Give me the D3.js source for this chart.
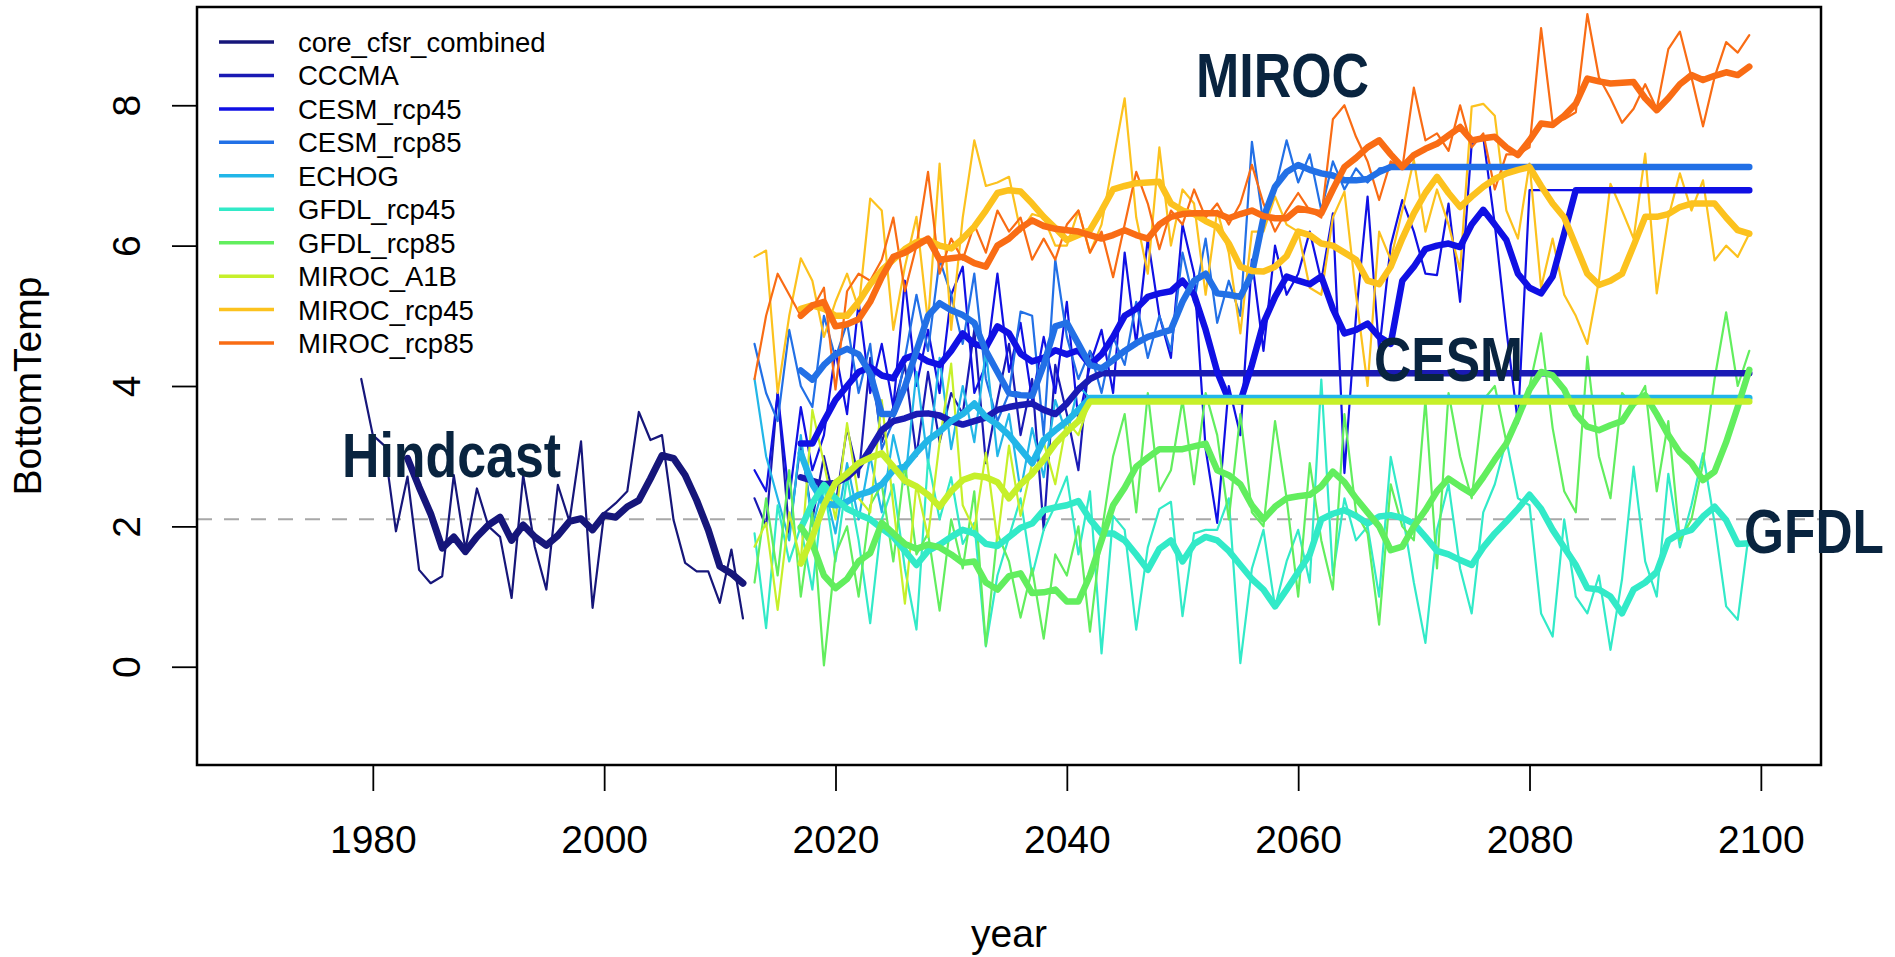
<!DOCTYPE html>
<meta charset="utf-8">
<style>
body { margin: 0; background: #fff; }
text { font-family: "Liberation Sans", Arial, sans-serif; fill: #000; }
.tick text { font-size: 39px; }
.legend text { font-size: 27.5px; }
.note { font-family: "Liberation Sans", Arial, sans-serif; font-weight: bold; font-size: 63px; fill: #09243f; }
</style>
<svg width="1895" height="957"></svg>
<script src="https://cdn.jsdelivr.net/npm/d3@7"></script>
<script>

// ---- data ----
var hindStart = 1979, hindThickStart = 1983, projStart = 2013, projThickStart = 2017;

var hindThin = [4.10, 3.30, 3.15, 1.93, 2.71, 1.38, 1.19, 1.29, 2.73, 1.67,
  2.54, 2.00, 1.85, 0.98, 2.73, 1.71, 1.10, 2.59, 2.07, 3.21,
  0.84, 2.19, 2.33, 2.50, 3.63, 3.23, 3.30, 2.09, 1.48, 1.36,
  1.36, 0.91, 1.67, 0.69];
var hindThick = [2.97, 2.56, 2.18, 1.69, 1.85, 1.64, 1.85, 2.02, 2.13, 1.80,
  2.02, 1.85, 1.73, 1.87, 2.07, 2.11, 1.95, 2.16, 2.13, 2.28,
  2.37, 2.68, 3.01, 2.97, 2.73, 2.37, 1.95, 1.43, 1.33, 1.19];

var cccmaThin = [2.4, 2.0, 3.9, 1.9, 3.2, 2.1, 3.0, 2.3, 3.4, 2.7,
  4.4, 3.2, 3.7, 4.3, 3.0, 4.2, 3.2, 3.9, 3.6, 4.8,
  2.9, 3.8, 4.6, 3.3, 4.1, 1.95, 4.3, 3.6, 2.8, 4.5,
  4.18, 4.18, 4.18, 4.18, 4.18, 4.18, 4.18, 4.18, 4.18, 4.18,
  4.18, 4.18, 4.18, 4.18, 4.18, 4.18, 4.18, 4.18, 4.18, 4.18,
  4.18, 4.18, 4.18, 4.18, 4.18, 4.18, 4.18, 4.18, 4.18, 4.18,
  4.18, 4.18, 4.18, 4.18, 4.18, 4.18, 4.18, 4.18, 4.18, 4.18,
  4.18, 4.18, 4.18, 4.18, 4.18, 4.18, 4.18, 4.18, 4.18, 4.18,
  4.18, 4.18, 4.18, 4.18, 4.18, 4.18, 4.18];
var cccmaThick = [2.7, 2.65, 2.6, 2.62, 2.7, 2.85, 3.1, 3.37, 3.5, 3.54,
  3.6, 3.61, 3.58, 3.5, 3.45, 3.5, 3.55, 3.66, 3.7, 3.73,
  3.75, 3.66, 3.6, 3.75, 3.95, 4.1, 4.18, 4.18, 4.18, 4.18,
  4.18, 4.18, 4.18, 4.18, 4.18, 4.18, 4.18, 4.18, 4.18, 4.18,
  4.18, 4.18, 4.18, 4.18, 4.18, 4.18, 4.18, 4.18, 4.18, 4.18,
  4.18, 4.18, 4.18, 4.18, 4.18, 4.18, 4.18, 4.18, 4.18, 4.18,
  4.18, 4.18, 4.18, 4.18, 4.18, 4.18, 4.18, 4.18, 4.18, 4.18,
  4.18, 4.18, 4.18, 4.18, 4.18, 4.18, 4.18, 4.18, 4.18, 4.18,
  4.18, 4.18, 4.18];

var cesm45Thin = [2.8, 2.5, 3.9, 2.4, 3.7, 2.8, 3.3, 4.5, 3.6, 5.2,
  3.9, 4.6, 3.7, 5.5, 4.0, 4.8, 3.9, 5.3, 5.7, 3.9,
  4.3, 5.6, 4.2, 4.9, 3.8, 4.7, 3.9, 5.2, 3.5, 4.3,
  4.8, 3.9, 5.9, 4.6, 6.1, 5.0, 4.4, 6.3, 5.6, 3.1,
  2.05, 4.0, 3.3, 5.8, 4.5, 6.0, 5.3, 5.6, 6.2, 5.5,
  6.46, 2.76, 5.0, 6.7, 4.5, 6.0, 6.65, 6.2, 5.6, 5.58,
  6.6, 5.2, 7.45, 7.55, 6.3, 4.8, 3.47, 6.79, 6.79, 6.79,
  6.79, 6.79, 6.79, 6.79, 6.79, 6.79, 6.79, 6.79, 6.79, 6.79,
  6.79, 6.79, 6.79, 6.79, 6.79, 6.79, 6.79];
var cesm45Thick = [3.18, 3.18, 3.5, 3.8, 4.0, 4.2, 4.27, 4.15, 4.11, 4.39,
  4.45, 4.35, 4.3, 4.5, 4.75, 4.6, 4.55, 4.85, 4.75, 4.46,
  4.35, 4.4, 4.51, 4.45, 4.51, 4.3, 4.45, 4.7, 5.0, 5.1,
  5.27, 5.32, 5.35, 5.5, 5.3, 4.8, 4.2, 3.8, 3.78, 4.3,
  4.9, 5.27, 5.56, 5.5, 5.45, 5.56, 5.1, 4.75, 4.8, 4.89,
  4.7, 4.6, 5.5, 5.7, 5.95, 6.0, 6.03, 5.98, 6.3, 6.51,
  6.3, 6.08, 5.6, 5.4, 5.32, 5.56, 6.17, 6.79, 6.79, 6.79,
  6.79, 6.79, 6.79, 6.79, 6.79, 6.79, 6.79, 6.79, 6.79, 6.79,
  6.79, 6.79, 6.79];

var cesm85Thin = [4.6, 3.9, 3.5, 4.8, 4.0, 3.7, 5.0, 4.4, 4.9, 3.9,
  4.6, 3.1, 3.5, 4.4, 5.3, 4.5, 5.8, 5.3, 4.6, 5.6,
  4.1, 3.5, 3.9, 5.06, 5.0, 3.3, 5.8, 4.7, 4.1, 4.5,
  3.9, 4.7, 4.3, 5.2, 4.4, 5.0, 4.5, 5.9, 5.2, 6.1,
  4.9, 5.5, 5.0, 7.48, 6.3, 6.8, 7.5, 6.9, 7.3, 6.5,
  7.2, 6.8, 7.1, 6.9, 7.1, 7.12, 7.12, 7.12, 7.12, 7.12,
  7.12, 7.12, 7.12, 7.12, 7.12, 7.12, 7.12, 7.12, 7.12, 7.12,
  7.12, 7.12, 7.12, 7.12, 7.12, 7.12, 7.12, 7.12, 7.12, 7.12,
  7.12, 7.12, 7.12, 7.12, 7.12, 7.12, 7.12];
var cesm85Thick = [4.22, 4.09, 4.3, 4.45, 4.53, 4.45, 4.18, 3.6, 3.6, 3.99,
  4.5, 5.0, 5.18, 5.08, 5.01, 4.9, 4.5, 4.2, 3.9, 3.87,
  3.86, 4.3, 4.85, 4.9, 4.6, 4.3, 4.25, 4.37, 4.5, 4.61,
  4.7, 4.75, 4.8, 5.2, 5.5, 5.6, 5.32, 5.3, 5.27, 5.6,
  6.4, 6.84, 7.05, 7.15, 7.08, 7.03, 7.0, 6.93, 6.93, 6.95,
  7.05, 7.12, 7.12, 7.12, 7.12, 7.12, 7.12, 7.12, 7.12, 7.12,
  7.12, 7.12, 7.12, 7.12, 7.12, 7.12, 7.12, 7.12, 7.12, 7.12,
  7.12, 7.12, 7.12, 7.12, 7.12, 7.12, 7.12, 7.12, 7.12, 7.12,
  7.12, 7.12, 7.12];

var echogThin = [4.1, 3.0, 2.4, 1.8, 3.3, 2.0, 2.6, 1.9, 2.9, 2.1,
  3.0, 2.2, 3.3, 2.6, 4.2, 2.9, 4.4, 3.1, 4.0, 3.2,
  4.5, 3.0, 3.6, 2.5, 3.4, 2.7, 3.8, 3.3, 4.0, 3.83,
  3.83, 3.83, 3.83, 3.83, 3.83, 3.83, 3.83, 3.83, 3.83, 3.83,
  3.83, 3.83, 3.83, 3.83, 3.83, 3.83, 3.83, 3.83, 3.83, 3.83,
  3.83, 3.83, 3.83, 3.83, 3.83, 3.83, 3.83, 3.83, 3.83, 3.83,
  3.83, 3.83, 3.83, 3.83, 3.83, 3.83, 3.83, 3.83, 3.83, 3.83,
  3.83, 3.83, 3.83, 3.83, 3.83, 3.83, 3.83, 3.83, 3.83, 3.83,
  3.83, 3.83, 3.83, 3.83, 3.83, 3.83, 3.83];
var echogThick = [3.04, 2.6, 2.33, 2.3, 2.35, 2.45, 2.5, 2.6, 2.8, 2.85,
  3.05, 3.23, 3.35, 3.5, 3.6, 3.75, 3.56, 3.45, 3.3, 3.1,
  2.9, 3.23, 3.37, 3.5, 3.66, 3.83, 3.83, 3.83, 3.83, 3.83,
  3.83, 3.83, 3.83, 3.83, 3.83, 3.83, 3.83, 3.83, 3.83, 3.83,
  3.83, 3.83, 3.83, 3.83, 3.83, 3.83, 3.83, 3.83, 3.83, 3.83,
  3.83, 3.83, 3.83, 3.83, 3.83, 3.83, 3.83, 3.83, 3.83, 3.83,
  3.83, 3.83, 3.83, 3.83, 3.83, 3.83, 3.83, 3.83, 3.83, 3.83,
  3.83, 3.83, 3.83, 3.83, 3.83, 3.83, 3.83, 3.83, 3.83, 3.83,
  3.83, 3.83, 3.83];

var gfdl45Thin = [1.9, 0.55, 2.3, 1.5, 2.0, 1.1, 2.6, 1.5, 2.7, 1.8,
  0.62, 2.1, 2.6, 1.4, 0.53, 2.95, 2.1, 2.7, 1.75, 2.05,
  0.29, 1.3, 1.85, 2.4, 1.3, 1.95, 2.3, 2.71, 1.6, 2.5,
  0.19, 2.15, 1.95, 0.53, 1.7, 2.25, 2.35, 0.72, 1.9, 1.95,
  1.95, 2.4, 0.05, 1.4, 1.95, 0.85, 1.5, 1.95, 1.2, 4.09,
  1.3, 2.4, 1.8, 2.0, 1.0, 2.99, 2.2, 1.2, 0.34, 1.95,
  2.6, 1.4, 0.76, 2.2, 2.6, 3.23, 2.4, 2.3, 0.76, 0.43,
  2.1, 1.0, 0.76, 1.3, 0.24, 1.25, 2.85, 1.5, 1.0, 2.75,
  1.7, 2.3, 3.04, 2.05, 0.86, 0.67, 1.95];
var gfdl45Thick = [1.97, 2.33, 2.59, 2.4, 2.25, 2.17, 2.1, 1.97, 1.85, 1.65,
  1.45, 1.65, 1.74, 1.85, 1.95, 1.9, 1.75, 1.72, 1.85, 1.98,
  2.04, 2.23, 2.27, 2.3, 2.36, 2.1, 1.9, 1.9, 1.8, 1.6,
  1.38, 1.68, 1.8, 1.5, 1.75, 1.85, 1.8, 1.65, 1.45, 1.25,
  1.1, 0.86, 1.1, 1.35, 1.6, 2.1, 2.18, 2.23, 2.15, 2.04,
  2.14, 2.16, 2.12, 2.04, 1.85, 1.65, 1.6, 1.52, 1.45, 1.7,
  1.9, 2.07, 2.25, 2.45, 2.25, 1.95, 1.7, 1.45, 1.12, 1.1,
  1.0, 0.76, 1.1, 1.2, 1.35, 1.8, 1.9, 1.95, 2.14, 2.28,
  2.09, 1.75, 1.76];

var gfdl85Thin = [1.2, 2.4, 1.3, 2.8, 1.0, 2.2, 0.02, 1.6, 2.0, 1.0,
  2.3, 2.6, 1.5, 2.9, 1.6, 1.9, 0.8, 2.1, 1.4, 2.5,
  0.3, 1.9, 1.5, 0.7, 1.4, 0.4, 1.6, 1.3, 2.0, 0.5,
  1.9, 3.0, 3.6, 2.2, 3.9, 2.5, 2.8, 3.8, 2.6, 3.9,
  3.3, 2.1, 3.6, 2.2, 2.0, 3.5, 2.4, 1.0, 2.9, 1.8,
  1.1, 3.6, 2.2, 1.9, 0.6, 2.6, 2.0, 1.8, 3.8, 1.4,
  3.9, 3.0, 2.4, 3.8, 4.0, 3.2, 3.6, 4.0, 4.75, 3.4,
  2.5, 2.2, 4.42, 3.0, 2.4, 3.9, 3.7, 4.0, 2.5, 3.5,
  1.8, 2.1, 2.9, 4.1, 5.05, 4.0, 4.5];
var gfdl85Thick = [1.99, 1.75, 1.3, 1.12, 1.25, 1.5, 1.62, 2.05, 1.9, 1.75,
  1.68, 1.74, 1.7, 1.6, 1.48, 1.5, 1.2, 1.1, 1.29, 1.33,
  1.05, 1.06, 1.1, 0.93, 0.93, 1.3, 1.8, 2.3, 2.55, 2.85,
  2.98, 3.1, 3.1, 3.1, 3.14, 3.18, 2.8, 2.73, 2.6, 2.3,
  2.1, 2.28, 2.4, 2.43, 2.45, 2.57, 2.78, 2.63, 2.4, 2.2,
  2.0, 1.66, 1.71, 2.0, 2.23, 2.5, 2.68, 2.57, 2.47, 2.7,
  2.95, 3.18, 3.55, 3.95, 4.2, 4.15, 3.95, 3.6, 3.42, 3.37,
  3.44, 3.5, 3.75, 3.87, 3.6, 3.3, 3.05, 2.9, 2.66, 2.78,
  3.2, 3.7, 4.23];

var a1bThin = [1.71, 2.05, 0.81, 2.2, 1.5, 3.66, 2.9, 2.1, 3.47, 2.4,
  2.2, 3.8, 2.3, 0.9, 2.6, 1.85, 3.2, 4.32, 2.3, 1.95,
  3.05, 1.8, 3.15, 2.15, 2.9, 3.2, 2.6, 3.5, 3.3, 3.78,
  3.78, 3.78, 3.78, 3.78, 3.78, 3.78, 3.78, 3.78, 3.78, 3.78,
  3.78, 3.78, 3.78, 3.78, 3.78, 3.78, 3.78, 3.78, 3.78, 3.78,
  3.78, 3.78, 3.78, 3.78, 3.78, 3.78, 3.78, 3.78, 3.78, 3.78,
  3.78, 3.78, 3.78, 3.78, 3.78, 3.78, 3.78, 3.78, 3.78, 3.78,
  3.78, 3.78, 3.78, 3.78, 3.78, 3.78, 3.78, 3.78, 3.78, 3.78,
  3.78, 3.78, 3.78, 3.78, 3.78, 3.78, 3.78];
var a1bThick = [1.47, 1.85, 2.3, 2.62, 2.75, 2.9, 2.98, 3.04, 2.85, 2.65,
  2.57, 2.45, 2.28, 2.5, 2.66, 2.72, 2.7, 2.63, 2.4, 2.6,
  2.75, 2.95, 3.18, 3.35, 3.5, 3.78, 3.78, 3.78, 3.78, 3.78,
  3.78, 3.78, 3.78, 3.78, 3.78, 3.78, 3.78, 3.78, 3.78, 3.78,
  3.78, 3.78, 3.78, 3.78, 3.78, 3.78, 3.78, 3.78, 3.78, 3.78,
  3.78, 3.78, 3.78, 3.78, 3.78, 3.78, 3.78, 3.78, 3.78, 3.78,
  3.78, 3.78, 3.78, 3.78, 3.78, 3.78, 3.78, 3.78, 3.78, 3.78,
  3.78, 3.78, 3.78, 3.78, 3.78, 3.78, 3.78, 3.78, 3.78, 3.78,
  3.78, 3.78, 3.78];

var miroc45Thin = [5.84, 5.93, 3.9, 5.0, 5.82, 5.5, 4.7, 5.2, 5.6, 5.1,
  6.67, 6.5, 4.8, 5.7, 6.41, 4.9, 7.17, 4.8, 6.4, 7.5,
  6.85, 6.9, 6.98, 6.2, 6.45, 6.4, 6.0, 6.0, 6.5, 5.9,
  6.3, 7.2, 8.1, 6.4, 5.6, 7.4, 6.0, 6.8, 6.6, 5.3,
  6.5, 5.9, 4.75, 6.2, 6.2, 6.7, 6.3, 6.2, 5.4, 5.3,
  6.4, 6.77, 5.3, 4.0, 6.2, 5.8, 6.5, 7.22, 6.2, 6.8,
  6.3, 5.65, 7.98, 8.02, 7.85, 6.5, 6.1, 7.17, 5.4, 6.1,
  5.3, 5.0, 4.6, 5.5, 6.88, 6.5, 6.1, 7.31, 5.32, 6.4,
  7.03, 6.5, 6.93, 5.79, 6.0, 5.84, 6.17];
var miroc45Thick = [5.1, 5.15, 5.1, 5.0, 5.0, 5.2, 5.45, 5.65, 5.8, 5.95,
  6.05, 6.08, 6.0, 5.96, 6.1, 6.27, 6.5, 6.75, 6.79, 6.77,
  6.6, 6.41, 6.25, 6.08, 6.15, 6.22, 6.5, 6.8, 6.85, 6.89,
  6.9, 6.91, 6.6, 6.5, 6.45, 6.35, 6.27, 6.03, 5.7, 5.64,
  5.63, 5.7, 5.85, 6.2, 6.15, 6.03, 6.0, 5.9, 5.8, 5.5,
  5.45, 5.7, 6.1, 6.46, 6.75, 6.98, 6.75, 6.55, 6.7, 6.84,
  6.95, 7.03, 7.08, 7.12, 6.85, 6.6, 6.4, 6.0, 5.6, 5.44,
  5.5, 5.6, 6.0, 6.41, 6.41, 6.45, 6.55, 6.6, 6.6, 6.6,
  6.4, 6.22, 6.17];

var miroc85Thin = [4.1, 5.0, 5.6, 5.3, 5.0, 5.1, 5.4, 3.95, 5.35, 5.6,
  5.5, 5.8, 6.4, 5.35, 6.0, 7.05, 5.6, 6.1, 5.8, 6.3,
  5.9, 6.5, 6.2, 6.4, 5.8, 6.1, 5.8, 6.3, 6.5, 5.9,
  6.2, 5.55, 6.3, 7.05, 6.6, 5.95, 6.5, 6.3, 6.8, 6.4,
  6.6, 6.3, 6.6, 7.15, 6.6, 6.2, 6.5, 6.75, 6.5, 6.4,
  7.8, 8.0, 7.55, 7.2, 6.65, 7.2, 7.1, 8.25, 7.5, 7.6,
  7.35, 8.0, 7.4, 7.6, 6.8, 7.3, 7.3, 7.4, 9.1, 7.75,
  7.8, 7.9, 9.3, 8.4, 8.1, 7.75, 7.95, 8.3, 7.95, 8.8,
  9.05, 8.4, 7.7, 8.4, 8.9, 8.75, 9.0];
var miroc85Thick = [5.0, 5.15, 5.2, 4.85, 4.88, 4.95, 5.2, 5.55, 5.84, 5.9,
  6.0, 6.1, 5.8, 5.82, 5.84, 5.75, 5.7, 6.0, 6.1, 6.25,
  6.36, 6.28, 6.24, 6.22, 6.2, 6.15, 6.1, 6.15, 6.22, 6.15,
  6.1, 6.3, 6.41, 6.45, 6.46, 6.46, 6.46, 6.39, 6.45, 6.5,
  6.42, 6.39, 6.39, 6.53, 6.5, 6.46, 6.8, 7.12, 7.25, 7.4,
  7.5, 7.3, 7.12, 7.29, 7.38, 7.45, 7.57, 7.69, 7.5, 7.53,
  7.55, 7.4, 7.29, 7.5, 7.74, 7.72, 7.85, 8.02, 8.38, 8.34,
  8.31, 8.32, 8.33, 8.1, 7.93, 8.1, 8.3, 8.43, 8.36, 8.42,
  8.47, 8.43, 8.55];

var seriesNames = ["core_cfsr_combined", "CCCMA", "CESM_rcp45", "CESM_rcp85", "ECHOG",
  "GFDL_rcp45", "GFDL_rcp85", "MIROC_A1B", "MIROC_rcp45", "MIROC_rcp85"];
var seriesColors = ["#16167a", "#1a1ab4", "#1010e4", "#2270e6", "#22b6e8",
  "#32eac8", "#62ee5e", "#c6f02a", "#fcc21e", "#f96c14"];
var thinValues = [hindThin, cccmaThin, cesm45Thin, cesm85Thin, echogThin,
  gfdl45Thin, gfdl85Thin, a1bThin, miroc45Thin, miroc85Thin];
var thickValues = [hindThick, cccmaThick, cesm45Thick, cesm85Thick, echogThick,
  gfdl45Thick, gfdl85Thick, a1bThick, miroc45Thick, miroc85Thick];

var yearTicks = [1980, 2000, 2020, 2040, 2060, 2080, 2100];
var tempTicks = [0, 2, 4, 6, 8];
var refLine = 2.1;

var notes = [
  {text: "Hindcast", x: 342, y: 477, w: 219},
  {text: "MIROC", x: 1196, y: 97, w: 173},
  {text: "CESM", x: 1374, y: 381, w: 149},
  {text: "GFDL", x: 1744, y: 553, w: 140}
];

// ---- chart ----
var svg = d3.select("svg");
var plotL = 197, plotR = 1821, plotT = 7, plotB = 765;

var x = d3.scaleLinear().domain([1964.8, 2105.2]).range([plotL, plotR]);
var y = d3.scaleLinear().domain([-1.4, 9.4]).range([plotB, plotT]);

var line = d3.line()
    .x(function(d) { return x(d[0]); })
    .y(function(d) { return y(d[1]); });

function pairs(values, start) {
  return values.map(function(v, i) { return [start + i, v]; });
}

var series = seriesNames.map(function(name, i) {
  var s0 = i === 0 ? hindStart : projStart,
      s1 = i === 0 ? hindThickStart : projThickStart;
  return {name: name, color: seriesColors[i],
          thin: pairs(thinValues[i], s0), thick: pairs(thickValues[i], s1)};
});

// reference line
svg.append("line")
    .attr("x1", plotL).attr("x2", plotR)
    .attr("y1", y(refLine)).attr("y2", y(refLine))
    .attr("stroke", "#a8a8a8")
    .attr("stroke-width", 2)
    .attr("stroke-dasharray", "15,12");

var g = svg.append("g").attr("fill", "none")
    .attr("stroke-linejoin", "round").attr("stroke-linecap", "round");

g.selectAll(".thin")
    .data(series)
  .enter().append("path")
    .attr("class", "thin")
    .attr("d", function(d) { return line(d.thin); })
    .attr("stroke", function(d) { return d.color; })
    .attr("stroke-width", 2.2);

g.selectAll(".thick")
    .data(series)
  .enter().append("path")
    .attr("class", "thick")
    .attr("d", function(d) { return line(d.thick); })
    .attr("stroke", function(d) { return d.color; })
    .attr("stroke-width", function(d, i) { return i === 0 ? 7 : 6.5; });

// axes
var xAxis = svg.append("g")
    .attr("transform", "translate(0," + plotB + ")")
    .call(d3.axisBottom(x).tickValues(yearTicks).tickFormat(d3.format("d")).tickSize(26));
xAxis.select(".domain").remove();
xAxis.selectAll(".tick line").attr("stroke-width", 1.8);
xAxis.selectAll(".tick text").attr("y", 88).attr("dy", null);

var yAxis = svg.append("g")
    .attr("transform", "translate(" + plotL + ",0)")
    .call(d3.axisLeft(y).tickValues(tempTicks).tickSize(25));
yAxis.select(".domain").remove();
yAxis.selectAll(".tick line").attr("stroke-width", 1.8);
yAxis.selectAll(".tick text")
    .attr("x", null).attr("dy", null)
    .attr("text-anchor", "middle")
    .attr("transform", "translate(-57,0) rotate(-90)");

// box
svg.append("rect")
    .attr("x", plotL).attr("y", plotT)
    .attr("width", plotR - plotL).attr("height", plotB - plotT)
    .attr("fill", "none").attr("stroke", "#000").attr("stroke-width", 2.5);

// axis titles
svg.append("text")
    .attr("x", (plotL + plotR) / 2).attr("y", 947)
    .attr("text-anchor", "middle")
    .style("font-size", "39px")
    .text("year");

svg.append("text")
    .attr("transform", "translate(41," + ((plotT + plotB) / 2) + ") rotate(-90)")
    .attr("text-anchor", "middle")
    .style("font-size", "39px")
    .text("BottomTemp");

// legend
var legend = svg.append("g").attr("class", "legend");
var row = legend.selectAll("g")
    .data(series)
  .enter().append("g")
    .attr("transform", function(d, i) { return "translate(0," + (42 + i * 33.45) + ")"; });
row.append("line")
    .attr("x1", 219).attr("x2", 274)
    .attr("stroke", function(d) { return d.color; })
    .attr("stroke-width", 3.5);
row.append("text")
    .attr("x", 298)
    .attr("dy", "0.36em")
    .text(function(d) { return d.name; });

// model labels
svg.selectAll(".note")
    .data(notes)
  .enter().append("text")
    .attr("class", "note")
    .attr("x", function(d) { return d.x; })
    .attr("y", function(d) { return d.y; })
    .attr("textLength", function(d) { return d.w; })
    .attr("lengthAdjust", "spacingAndGlyphs")
    .text(function(d) { return d.text; });

</script>
